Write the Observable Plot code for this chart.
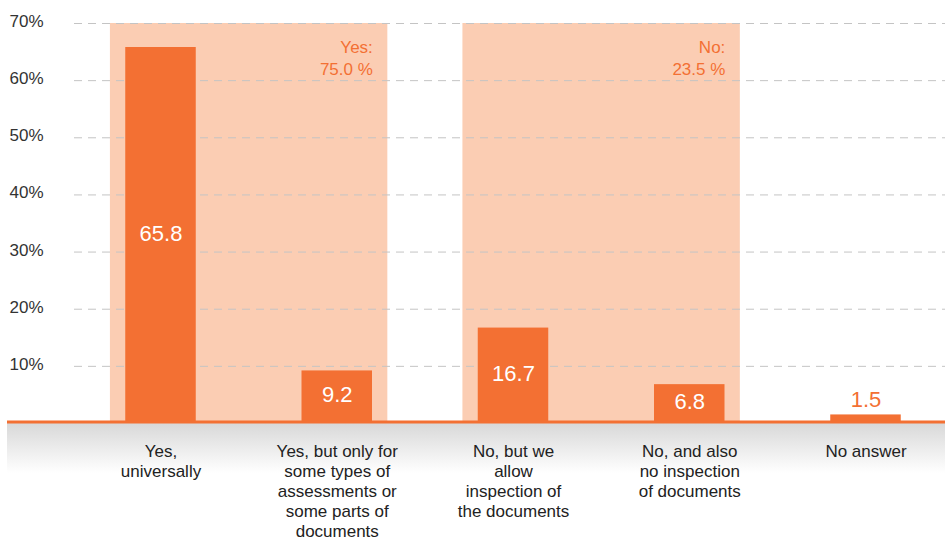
<!DOCTYPE html>
<html><head><meta charset="utf-8">
<script src="https://cdn.jsdelivr.net/npm/d3@7"></script>
<script src="https://cdn.jsdelivr.net/npm/@observablehq/plot@0.6"></script>
<style>body{margin:0;background:#fff;}</style>
</head><body><div id="chart"></div>
<script>
const categories = [
  "Yes,\nuniversally",
  "Yes, but only for\nsome types of\nassessments or\nsome parts of\ndocuments",
  "No, but we\nallow\ninspection of\nthe documents",
  "No, and also\nno inspection\nof documents",
  "No answer"
];
const values = [65.8, 9.2, 16.7, 6.8, 1.5];
const yTicks = [10, 20, 30, 40, 50, 60, 70];
const groupLabels = ["Yes:\n75.0 %", "No:\n23.5 %"];
const groupFirst = [0, 2];
const groupLast = [1, 3];

const bars = values.map((v, i) => ({i, v, label: v.toFixed(1), inside: v > 5}));
const groups = groupLabels.map((label, k) => ({label, first: groupFirst[k], last: groupLast[k]}));
const cats = categories.map((c, i) => ({i, c}));

const ORANGE = "#f37033", BAND = "#fbcdb3";
const halfBar = 0.2, halfBand = 0.287;
const FONT = "'Liberation Sans', Arial, Helvetica, sans-serif";

const gradientMark = (index, scales, vals, dims) => {
  const g = d3.create("svg:g");
  const y0 = scales.y(0);
  const lg = g.append("defs").append("linearGradient").attr("id", "baseGrad")
    .attr("x1", 0).attr("y1", 0).attr("x2", 0).attr("y2", 1);
  lg.append("stop").attr("offset", "0%").attr("stop-color", "#d8d8d8");
  lg.append("stop").attr("offset", "100%").attr("stop-color", "#ffffff");
  g.append("rect").attr("x", 7).attr("y", y0).attr("width", dims.width - 7).attr("height", 50)
    .attr("fill", "url(#baseGrad)");
  return g.node();
};

const baselineMark = (index, scales, vals, dims) => {
  const y0 = scales.y(0) - 1;
  const g = d3.create("svg:g");
  g.append("line").attr("x1", 7).attr("x2", dims.width).attr("y1", y0).attr("y2", y0)
    .attr("stroke", ORANGE).attr("stroke-width", 3);
  return g.node();
};

const chart = Plot.plot({
  width: 945, height: 542,
  marginTop: 23, marginBottom: 119, marginLeft: 74, marginRight: 0,
  style: {fontFamily: FONT, fontSize: "17px", color: "#333", background: "#fff", overflow: "visible"},
  x: {domain: [0, 4], range: [160.5, 865.5], axis: null},
  y: {domain: [0, 70], axis: null},
  marks: [
    gradientMark,
    Plot.rect(groups, {x1: d => d.first - halfBand, x2: d => d.last + halfBand, y1: 0, y2: 70, fill: BAND}),
    Plot.ruleY(yTicks, {stroke: "#c4c4c4", strokeDasharray: "8,6", strokeWidth: 1}),
    Plot.axisY(yTicks, {tickSize: 0, tickPadding: 31, tickFormat: d => d + "%", fontSize: 17, fill: "#333", dy: -2, label: null}),
    Plot.rectY(bars, {x1: d => d.i - halfBar, x2: d => d.i + halfBar, y1: 0, y2: "v", fill: ORANGE}),
    baselineMark,
    Plot.text(bars.filter(d => d.inside), {x: "i", y: d => d.v / 2, text: "label", fill: "white", fontSize: 22, dy: -2}),
    Plot.text(bars.filter(d => !d.inside), {x: "i", y: "v", text: "label", fill: ORANGE, fontSize: 22, dy: -15}),
    Plot.text(cats, {x: "i", y: 0, text: "c", lineAnchor: "top", dy: 19, lineHeight: 1.18, fill: "#222", fontSize: 17}),
    Plot.text(groups, {x: d => d.last + halfBand, y: 70, text: "label", textAnchor: "end", lineAnchor: "top",
      dx: -15, dy: 15, fill: ORANGE, fontSize: 17, lineHeight: 1.24})
  ]
});
document.getElementById("chart").appendChild(chart);
</script>
</body></html>
